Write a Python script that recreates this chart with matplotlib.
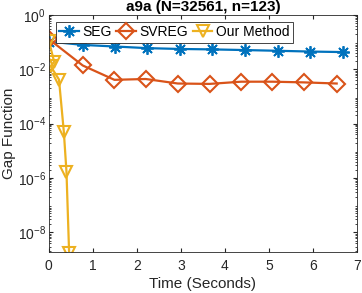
import matplotlib
matplotlib.use('Agg')
import matplotlib.pyplot as plt
from matplotlib.ticker import LogLocator, NullFormatter

# data
seg_t = [0.0, 0.77, 1.50, 2.24, 2.98, 3.71, 4.46, 5.20, 5.94, 6.69]
seg_gap = [0.105, 0.079, 0.069, 0.060, 0.056, 0.054, 0.051, 0.048, 0.045, 0.043]

svreg_t = [0.0, 0.77, 1.49, 2.20, 2.93, 3.65, 4.37, 5.08, 5.80, 6.54]
svreg_gap = [0.129, 0.0138, 0.0041, 0.0044, 0.0030, 0.0029, 0.0035, 0.0035, 0.0033, 0.0030]

our_t = [0.0, 0.12, 0.04, 0.23, 0.34, 0.40, 0.46]
our_gap = [0.11, 0.019, 0.013, 0.0042, 5e-5, 1.7e-6, 1.8e-9]

plt.rcParams['font.family'] = ['Liberation Sans', 'DejaVu Sans']

fig = plt.figure(figsize=(3.62, 2.93), dpi=100)
ax = fig.add_axes([0.135, 0.140, 0.851, 0.809])

ax.plot(seg_t, seg_gap, color='#0072BD', lw=1.6, marker=(8, 2, 0), ms=9,
        mew=1.3, label='SEG')
ax.plot(svreg_t, svreg_gap, color='#D95319', lw=1.6, marker='D', ms=8,
        mfc='none', mew=1.5, label='SVREG')
ax.plot(our_t, our_gap, color='#EDB120', lw=1.6, marker='v', ms=9,
        mfc='none', mew=1.5, label='Our Method')

ax.set_yscale('log')
ax.set_xlim(0, 7)
ax.set_ylim(1.9e-9, 1)
ax.set_xticks(range(0, 8))
ax.set_yticks([1e-8, 1e-6, 1e-4, 1e-2, 1e0])
ax.yaxis.set_minor_locator(LogLocator(base=10, subs=range(2, 10), numticks=20))
ax.yaxis.set_minor_formatter(NullFormatter())

for s in ax.spines.values():
    s.set_color('#262626')
    s.set_linewidth(0.6)
ax.tick_params(which='both', direction='in', top=True, right=True,
               colors='#262626', labelsize=10)
ax.tick_params(which='major', length=3)
ax.tick_params(which='minor', length=1.5)
ax.tick_params(axis='x', which='major', pad=5)
ax.tick_params(axis='y', which='major', pad=2)

ax.set_xlabel('Time (Seconds)', fontsize=11, color='#262626', labelpad=3)
ax.set_ylabel('Gap Function', fontsize=11, color='#262626', labelpad=1)
ax.set_title('a9a (N=32561, n=123)', fontsize=11, fontweight='bold', pad=3)

leg = ax.legend(loc='upper left', ncol=3, fontsize=10, frameon=True,
                fancybox=False, edgecolor='#262626', framealpha=1,
                handlelength=1.4, handletextpad=0.25, columnspacing=0.35,
                borderpad=0.25, borderaxespad=0.5)
leg.get_frame().set_linewidth(0.6)

fig.savefig('out.png', dpi=100)
